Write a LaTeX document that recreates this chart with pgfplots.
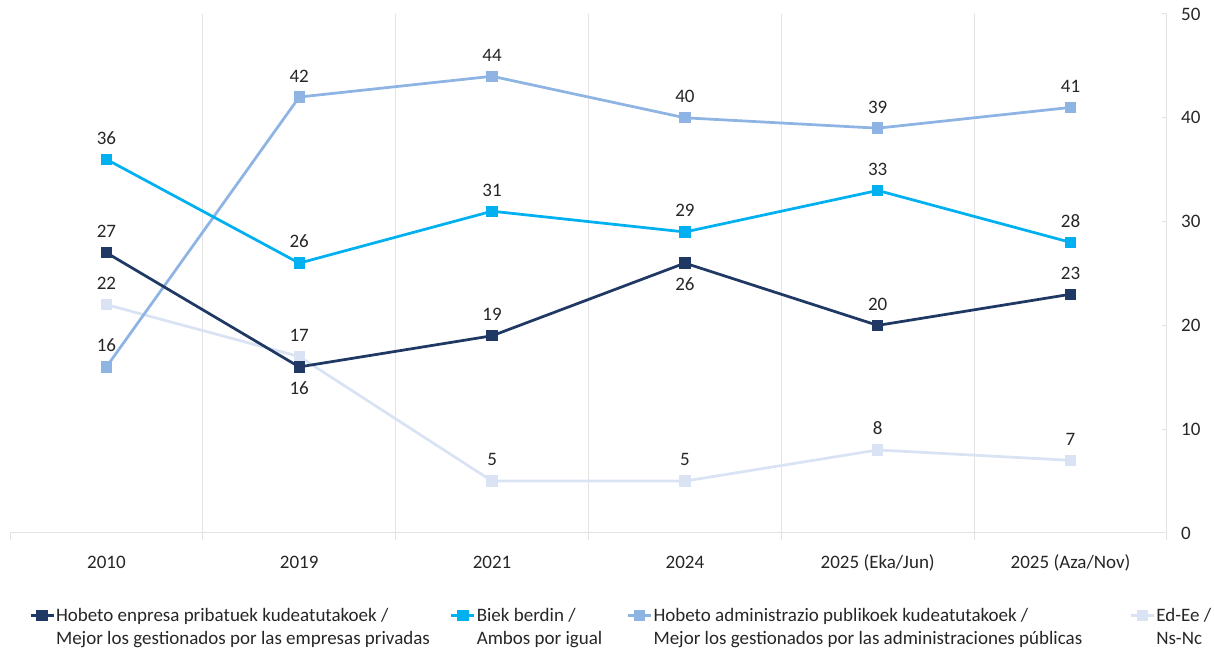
\documentclass[border=0pt]{standalone}
\usepackage{pgfplots}
\pgfplotsset{compat=1.18}
\usepackage{fontspec}
\setmainfont{Carlito}
\definecolor{cNavy}{HTML}{1F3864}
\definecolor{cCyan}{HTML}{00B0F0}
\definecolor{cLblue}{HTML}{8EB4E3}
\definecolor{cPale}{HTML}{DAE3F3}
\definecolor{cGrid}{HTML}{E3E3E3}
\definecolor{cTxt}{HTML}{262626}

\pgfplotstableread{
x y
0 27
1 16
2 19
3 26
4 20
5 23
}\tabNavy
\pgfplotstableread{
x y
0 36
1 26
2 31
3 29
4 33
5 28
}\tabCyan
\pgfplotstableread{
x y
0 16
1 42
2 44
3 40
4 39
5 41
}\tabLblue
\pgfplotstableread{
x y
0 22
1 17
2 5
3 5
4 8
5 7
}\tabPale

\pgfplotsset{
  myline/.style={
    color=#1, line width=2.75pt, mark=square*,
    mark size=5.2pt, mark options={solid, line width=1pt, fill=#1},
  },
  mylabels/.style={
    draw=none, mark=none, forget plot,
    nodes near coords,
    every node near coord/.append style={anchor=#1, inner sep=0pt, outer sep=15pt,
      text=cTxt, font=\fontsize{19}{22}\selectfont},
  },
}

\begin{document}
\begin{tikzpicture}[x=1pt,y=1pt]
\path[use as bounding box] (0,0) rectangle (1214,650);
\begin{axis}[
  at={(10pt,117pt)}, anchor=south west,
  scale only axis, width=1157pt, height=519pt,
  xmin=-0.5, xmax=5.5, ymin=0, ymax=50,
  axis x line*=bottom, axis y line*=right,
  axis line style={cGrid, line width=1pt},
  xtick={0,1,2,3,4,5},
  xticklabels={2010,2019,2021,2024,2025 (Eka/Jun),2025 (Aza/Nov)},
  xtick style={draw=none},
  minor xtick={0.5,1.5,2.5,3.5,4.5},
  xminorgrids=true,
  minor x grid style={cGrid, line width=1pt},
  ytick={0,10,20,30,40,50},
  ytick style={cGrid, line width=1pt},
  tick align=inside, major tick length=5pt,
  tick label style={text=cTxt, font=\fontsize{19}{22}\selectfont},
  /pgf/number format/assume math mode=true,
  xticklabel style={anchor=base, inner sep=0pt, yshift=-36pt},
  yticklabel style={anchor=west, inner sep=0pt, xshift=14pt},
  clip=false,
  reverse legend,
  legend columns=4,
  legend cell align=left,
  legend style={at={(0.0165,-0.143)}, anchor=north west, draw=none, fill=none,
    inner sep=0pt, column sep=0pt,
    font=\fontsize{19}{23}\selectfont, text=cTxt,
    nodes={inner sep=1pt}},
  legend image code/.code={
    \draw[mark repeat=2, mark phase=2] plot coordinates {(0pt,0pt) (11.5pt,0pt) (23pt,0pt)};
  },
]
\pgfplotsinvokeforeach{-0.5,0.5,1.5,2.5,3.5,4.5,5.5}{
  \draw[cGrid, line width=1pt] (axis cs:#1,0) -- ++(0pt,-7pt);
}
\addplot[myline=cPale] table[x=x,y=y] {\tabPale};
\addlegendentry{\parbox[t]{60pt}{Ed-Ee /\\Ns-Nc}}
\addplot[myline=cLblue] table[x=x,y=y] {\tabLblue};
\addlegendentry{\parbox[t]{475pt}{Hobeto administrazio publikoek kudeatutakoek /\\Mejor los gestionados por las administraciones públicas}}
\addplot[myline=cCyan] table[x=x,y=y] {\tabCyan};
\addlegendentry{\parbox[t]{149pt}{Biek berdin /\\Ambos por igual}}
\addplot[myline=cNavy] table[x=x,y=y] {\tabNavy};
\addlegendentry{\parbox[t]{393pt}{Hobeto enpresa pribatuek kudeatutakoek /\\Mejor los gestionados por las empresas privadas}}
% data labels
\addplot[mylabels=south] table[x=x,y=y] {\tabPale};
\addplot[mylabels=south] table[x=x,y=y] {\tabLblue};
\addplot[mylabels=south] table[x=x,y=y] {\tabCyan};
\addplot[mylabels=south] coordinates {(0,27) (2,19) (4,20) (5,23)};
\addplot[mylabels=north] coordinates {(1,16) (3,26)};
\end{axis}
\end{tikzpicture}
\end{document}
